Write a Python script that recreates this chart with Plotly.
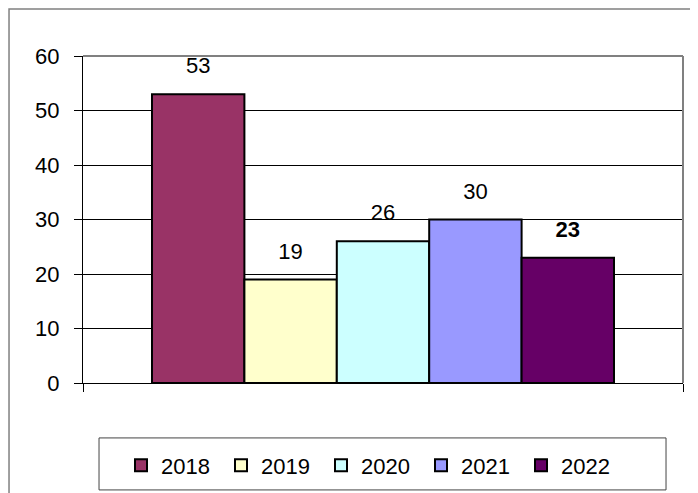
import plotly.graph_objects as go

years = ["2018", "2019", "2020", "2021", "2022"]
values = [53, 19, 26, 30, 23]
labels = ["53", "19", "26", "30", "<b>23</b>"]
colors = ["#993366", "#FFFFCC", "#CCFFFF", "#9999FF", "#660066"]
y_ticks = [0, 10, 20, 30, 40, 50, 60]

FONT = "Arial, 'Liberation Sans', sans-serif"

fig = go.Figure()
for i, (yr, v, c) in enumerate(zip(years, values, colors)):
    fig.add_trace(go.Bar(
        x=[0], y=[v], name=yr, offsetgroup=str(i),
        marker=dict(color=c, line=dict(color="black", width=2)),
    ))
for i, (yr, v, t) in enumerate(zip(years, values, labels)):
    fig.add_trace(go.Scatter(
        x=[0], y=[v], text=[t], mode="markers+text", textposition="top center",
        offsetgroup=str(i), showlegend=False, hoverinfo="skip",
        marker=dict(size=23, opacity=0),
        textfont=dict(family=FONT, size=22, color="black"),
        cliponaxis=False,
    ))

fig.update_layout(
    width=698, height=493,
    margin=dict(l=75, r=23, t=48, b=118),
    paper_bgcolor="white", plot_bgcolor="white",
    barmode="group", bargap=0.23, bargroupgap=0,
    scattermode="group", scattergap=0.23,
    font=dict(family=FONT, size=22, color="black"),
    showlegend=True,
    legend=dict(
        orientation="h", x=0.48, xanchor="center", y=-0.252, yanchor="middle",
        font=dict(family=FONT, size=22, color="black"),
        bgcolor="rgba(0,0,0,0)", borderwidth=0,
        entrywidth=55, entrywidthmode="pixels",
        traceorder="normal",
    ),
    xaxis=dict(
        range=[-0.5, 0.5], tickvals=[-0.5, 0.5], showticklabels=False,
        ticks="outside", ticklen=8, tickcolor="black", tickwidth=1,
        showline=True, linecolor="black", linewidth=1,
        showgrid=False, zeroline=False, fixedrange=True,
    ),
    yaxis=dict(
        range=[0, 60], tickvals=y_ticks,
        ticks="outside", ticklen=8, tickcolor="black", tickwidth=1,
        showline=True, linecolor="black", linewidth=1,
        showgrid=True, gridcolor="black", gridwidth=1,
        zeroline=False, ticklabelstandoff=10,
        tickfont=dict(family=FONT, size=22, color="black"),
    ),
    shapes=[
        # plot-area top and right border (grey)
        dict(type="line", xref="paper", yref="paper", x0=0, x1=1, y0=1, y1=1,
             line=dict(color="#808080", width=2), layer="above"),
        dict(type="line", xref="paper", yref="paper", x0=1, x1=1, y0=0, y1=1,
             line=dict(color="#808080", width=2), layer="above"),
        # outer chart border
        dict(type="rect", xref="paper", yref="paper", x0=-0.1233, x1=1.2,
             y0=-0.6, y1=1.1437, line=dict(color="#808080", width=1.5)),
        # legend box
        dict(type="rect", xref="paper", yref="paper", x0=0.0267, x1=0.9717,
             y0=-0.327, y1=-0.168, line=dict(color="#444444", width=1)),
    ],
)

fig.write_html("out.html")
